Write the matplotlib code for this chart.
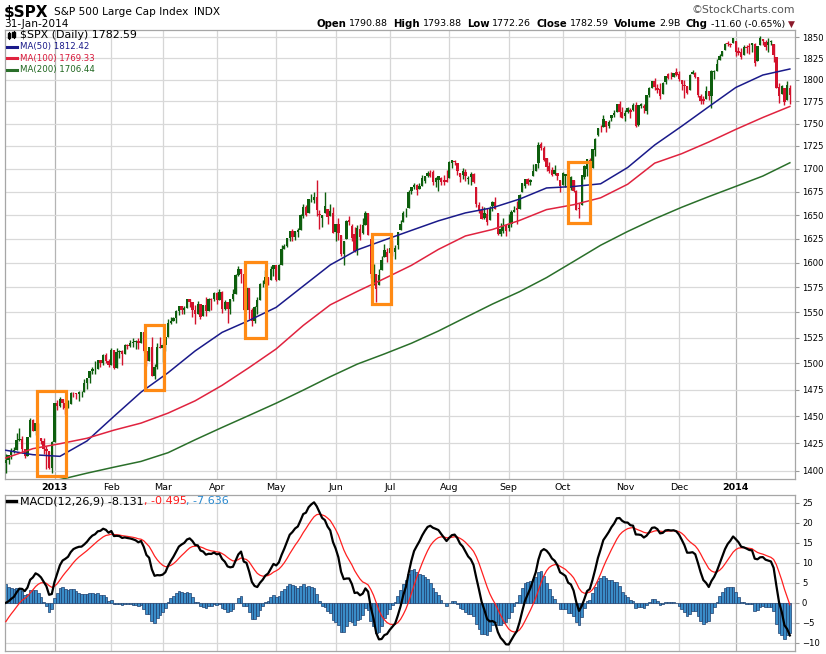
import numpy as np
import pandas as pd
import matplotlib
matplotlib.use("Agg")
import matplotlib.pyplot as plt
import matplotlib.patches as patches
from matplotlib.ticker import FixedLocator, NullLocator, FuncFormatter

# ---- daily OHLC, 5-Dec-2012 .. 31-Jan-2014 (one entry per trading day)
closes = [
    # Dec 2012
    1409.28, 1413.94, 1418.07, 1418.55, 1427.84, 1428.48, 1419.45, 1413.58, 1430.36, 1446.79,
    1435.81, 1443.69, 1430.15, 1426.66, 1419.83, 1418.10, 1402.43, 1426.19,
    # Jan 2013
    1462.42, 1459.37, 1466.47, 1461.89, 1457.15, 1461.02, 1472.12, 1472.05, 1470.68, 1472.34,
    1472.63, 1480.94, 1485.98, 1492.56, 1494.81, 1494.82, 1502.96, 1500.18, 1507.84, 1501.96, 1498.11,
    # Feb
    1513.17, 1495.71, 1511.29, 1512.12, 1509.39, 1517.93, 1517.01, 1519.43, 1520.33, 1521.38,
    1519.79, 1530.94, 1511.95, 1502.42, 1515.60, 1487.85, 1496.94, 1515.99, 1514.68,
    # Mar
    1518.20, 1525.20, 1539.79, 1541.46, 1544.26, 1551.18, 1556.22, 1552.48, 1554.52, 1563.23,
    1560.70, 1552.10, 1548.34, 1558.71, 1545.80, 1556.89, 1551.69, 1563.77, 1562.85, 1569.19,
    # Apr
    1562.17, 1570.25, 1553.69, 1559.98, 1553.28, 1563.07, 1568.61, 1587.73, 1593.37, 1588.85,
    1552.36, 1574.57, 1552.01, 1541.61, 1555.25, 1562.50, 1578.78, 1578.79, 1585.16, 1582.24,
    1593.61, 1597.57,
    # May
    1582.70, 1597.59, 1614.42, 1617.50, 1625.96, 1632.69, 1626.67, 1633.70, 1633.77, 1650.34,
    1658.78, 1650.47, 1667.47, 1666.29, 1669.16, 1655.35, 1650.51, 1649.60, 1660.06, 1648.36,
    1654.41, 1630.74,
    # Jun
    1640.42, 1631.38, 1608.90, 1622.56, 1643.38, 1642.81, 1626.13, 1612.52, 1636.36, 1626.73,
    1639.04, 1651.81, 1628.93, 1588.19, 1592.43, 1573.09, 1588.03, 1603.26, 1613.20, 1606.28,
    # Jul
    1614.96, 1614.08, 1615.41, 1631.89, 1640.46, 1652.32, 1652.62, 1675.02, 1680.19, 1682.50,
    1676.26, 1680.91, 1689.37, 1692.09, 1695.53, 1692.39, 1685.94, 1690.25, 1691.65, 1685.33,
    1685.96, 1685.73,
    # Aug
    1706.87, 1709.67, 1707.14, 1697.37, 1690.91, 1697.48, 1691.42, 1689.47, 1694.16, 1685.39,
    1661.32, 1655.83, 1646.06, 1652.35, 1642.80, 1656.96, 1663.50, 1656.78, 1630.48, 1634.96,
    1638.17, 1632.97,
    # Sep
    1639.77, 1653.08, 1655.08, 1655.17, 1671.71, 1683.99, 1689.13, 1683.42, 1687.99, 1697.60,
    1704.76, 1725.52, 1722.34, 1709.91, 1701.84, 1697.42, 1692.77, 1698.67, 1691.75, 1681.55,
    # Oct
    1695.00, 1693.87, 1678.66, 1690.50, 1676.12, 1655.45, 1656.40, 1692.56, 1703.20, 1710.14,
    1698.06, 1721.54, 1733.15, 1744.50, 1744.66, 1754.67, 1746.38, 1752.07, 1759.77, 1762.11,
    1771.95, 1763.31, 1756.54,
    # Nov
    1761.64, 1767.93, 1762.97, 1770.49, 1747.15, 1770.61, 1771.89, 1767.69, 1782.00, 1790.62,
    1798.18, 1791.53, 1787.87, 1781.37, 1795.85, 1804.76, 1802.48, 1802.75, 1807.23, 1805.81,
    # Dec
    1800.90, 1795.15, 1792.81, 1785.03, 1805.09, 1808.37, 1802.62, 1782.22, 1775.50, 1775.32,
    1786.54, 1781.00, 1810.65, 1809.60, 1818.32, 1827.99, 1833.32, 1842.02, 1841.40, 1841.07,
    1848.36,
    # Jan 2014
    1831.98, 1831.37, 1826.77, 1837.88, 1837.49, 1838.13, 1842.37, 1819.20, 1838.88, 1848.38,
    1845.89, 1838.70, 1843.80, 1844.86, 1828.46, 1790.29, 1781.56, 1792.50, 1774.20, 1794.19,
    1782.59,
]

opens = [
    1407.05, 1409.43, 1413.95, 1418.07, 1418.55, 1427.84, 1428.48, 1419.45, 1413.54, 1430.47,
    1446.79, 1435.81, 1443.67, 1430.15, 1426.66, 1419.83, 1418.10, 1402.43,
    1426.19, 1462.42, 1459.37, 1466.47, 1461.89, 1457.15, 1461.02, 1472.12, 1472.05, 1470.67,
    1472.33, 1472.63, 1480.95, 1485.98, 1492.56, 1494.81, 1494.82, 1502.96, 1500.18, 1507.84, 1501.96,
    1498.11, 1513.17, 1495.71, 1511.29, 1512.12, 1509.39, 1517.93, 1517.01, 1519.43, 1520.33,
    1521.38, 1519.79, 1530.94, 1511.95, 1502.42, 1515.60, 1487.85, 1496.94, 1515.99,
    1514.68, 1518.20, 1525.20, 1539.79, 1541.46, 1544.26, 1551.15, 1556.22, 1552.48, 1554.52,
    1563.21, 1560.70, 1552.10, 1548.34, 1558.71, 1545.90, 1556.89, 1551.69, 1563.75, 1562.86,
    1569.18, 1562.17, 1570.25, 1553.69, 1559.98, 1553.26, 1563.11, 1568.61, 1587.73, 1593.30,
    1588.84, 1552.36, 1574.57, 1552.03, 1541.61, 1555.25, 1562.50, 1578.78, 1578.78, 1585.16,
    1582.34, 1593.58,
    1597.55, 1582.77, 1597.60, 1614.40, 1617.55, 1625.95, 1632.69, 1626.69, 1632.10, 1633.75,
    1649.13, 1658.07, 1652.45, 1665.71, 1666.20, 1669.39, 1651.62, 1646.67, 1652.63, 1656.57,
    1649.14, 1652.13,
    1631.71, 1640.73, 1629.05, 1609.29, 1625.27, 1644.67, 1638.64, 1629.94, 1612.15, 1635.52,
    1630.64, 1639.77, 1651.83, 1624.62, 1588.62, 1588.77, 1577.52, 1592.27, 1606.44, 1611.12,
    1609.78, 1614.29, 1611.48, 1618.65, 1634.20, 1642.89, 1652.50, 1657.41, 1675.26, 1679.59,
    1682.70, 1677.91, 1681.05, 1686.15, 1692.09, 1695.53, 1696.06, 1685.21, 1687.31, 1690.32,
    1687.92, 1687.76,
    1689.42, 1706.10, 1708.01, 1705.79, 1695.30, 1693.35, 1696.10, 1688.37, 1690.65, 1693.88,
    1679.61, 1661.22, 1655.25, 1646.81, 1650.66, 1645.03, 1659.92, 1664.29, 1652.54, 1630.25,
    1633.50, 1638.89,
    1635.95, 1640.72, 1653.28, 1657.44, 1656.85, 1675.11, 1681.04, 1689.21, 1685.04, 1691.70,
    1697.73, 1705.74, 1727.34, 1722.44, 1711.44, 1702.60, 1698.02, 1694.05, 1695.52, 1687.26,
    1682.41, 1691.90, 1692.35, 1678.79, 1687.15, 1676.22, 1656.99, 1660.88, 1691.09, 1699.86,
    1709.17, 1700.49, 1720.17, 1736.72, 1745.20, 1746.48, 1752.27, 1747.48, 1756.01, 1759.42,
    1762.93, 1772.27, 1763.24,
    1758.70, 1763.40, 1765.67, 1765.00, 1770.74, 1748.37, 1769.96, 1769.51, 1764.37, 1782.75,
    1790.66, 1798.82, 1790.79, 1789.59, 1783.52, 1797.21, 1806.33, 1802.87, 1803.48, 1808.69,
    1806.55, 1800.10, 1794.15, 1792.82, 1788.36, 1806.21, 1807.60, 1802.76, 1781.71, 1777.98,
    1777.48, 1786.47, 1781.46, 1809.00, 1810.39, 1822.92, 1828.02, 1834.96, 1842.97, 1841.47,
    1842.61,
    1845.86, 1833.21, 1832.31, 1828.71, 1837.90, 1839.00, 1840.06, 1841.26, 1821.36, 1840.52,
    1847.99, 1844.23, 1841.05, 1844.71, 1842.29, 1826.96, 1791.03, 1783.00, 1790.15, 1777.17,
    1790.88,
]

highs = [
    1415.56, 1413.95, 1420.34, 1421.64, 1434.27, 1438.59, 1431.36, 1419.45, 1430.67, 1448.00,
    1447.75, 1443.70, 1443.67, 1430.15, 1429.42, 1422.80, 1418.10, 1426.74,
    1462.43, 1465.47, 1467.94, 1466.47, 1461.89, 1464.73, 1472.30, 1472.75, 1472.05, 1473.31,
    1473.96, 1485.16, 1485.98, 1492.56, 1496.13, 1502.27, 1503.26, 1503.23, 1509.35, 1509.94, 1504.19,
    1514.41, 1513.17, 1514.96, 1512.53, 1512.90, 1518.31, 1518.31, 1522.29, 1524.69, 1523.14,
    1524.24, 1530.94, 1530.94, 1511.95, 1515.64, 1525.84, 1498.99, 1520.08, 1525.34,
    1519.99, 1525.27, 1543.47, 1545.25, 1545.78, 1552.48, 1556.27, 1556.77, 1556.39, 1563.32,
    1563.62, 1560.70, 1557.25, 1561.56, 1558.71, 1557.74, 1564.91, 1563.95, 1564.07, 1570.28,
    1570.57, 1573.66, 1571.47, 1562.60, 1559.98, 1563.07, 1573.89, 1589.07, 1597.35, 1593.30,
    1588.84, 1575.35, 1574.57, 1554.38, 1555.89, 1565.55, 1579.58, 1583.00, 1592.64, 1585.78,
    1596.65, 1597.57,
    1597.55, 1598.60, 1618.46, 1619.77, 1626.03, 1632.78, 1635.01, 1633.70, 1636.00, 1651.10,
    1661.49, 1660.51, 1667.47, 1672.84, 1674.93, 1687.18, 1655.50, 1649.78, 1674.21, 1656.57,
    1661.91, 1658.99,
    1640.42, 1646.53, 1629.31, 1622.56, 1644.40, 1648.69, 1640.13, 1637.71, 1639.25, 1640.80,
    1646.50, 1654.19, 1652.45, 1624.62, 1599.19, 1588.77, 1593.79, 1606.83, 1620.07, 1615.94,
    1626.61, 1624.26, 1618.97, 1632.07, 1644.68, 1654.18, 1657.92, 1676.63, 1680.19, 1684.51,
    1683.73, 1684.75, 1693.12, 1692.09, 1697.61, 1698.78, 1698.38, 1690.94, 1691.85, 1690.92,
    1693.19, 1698.43,
    1707.85, 1709.67, 1709.24, 1705.79, 1695.30, 1700.18, 1699.42, 1691.49, 1696.81, 1695.52,
    1679.61, 1663.60, 1659.18, 1658.92, 1656.99, 1659.55, 1664.85, 1669.51, 1652.54, 1641.18,
    1646.41, 1640.08,
    1651.35, 1655.72, 1659.17, 1664.83, 1672.40, 1684.09, 1689.13, 1689.97, 1688.73, 1704.95,
    1705.52, 1729.44, 1729.86, 1725.23, 1711.44, 1707.63, 1701.71, 1703.85, 1695.52, 1687.26,
    1696.55, 1693.87, 1692.35, 1691.94, 1687.15, 1676.79, 1662.47, 1692.56, 1703.44, 1711.03,
    1711.57, 1721.76, 1733.45, 1745.31, 1747.79, 1759.33, 1752.27, 1753.94, 1759.82, 1764.99,
    1772.09, 1775.22, 1768.53,
    1765.67, 1768.78, 1767.03, 1773.74, 1774.54, 1770.78, 1773.44, 1771.78, 1782.00, 1791.53,
    1798.22, 1802.33, 1795.51, 1795.73, 1797.16, 1804.84, 1808.10, 1808.42, 1808.27, 1813.55,
    1810.02, 1800.10, 1799.80, 1792.82, 1806.04, 1811.52, 1808.52, 1802.97, 1782.99, 1780.92,
    1792.22, 1786.77, 1811.08, 1810.88, 1823.75, 1829.75, 1833.32, 1842.84, 1844.89, 1842.47,
    1849.44,
    1845.86, 1838.24, 1837.16, 1840.10, 1840.02, 1843.23, 1843.15, 1843.45, 1839.26, 1850.84,
    1847.99, 1846.04, 1849.31, 1846.87, 1842.29, 1826.96, 1795.98, 1793.87, 1790.15, 1798.77,
    1793.88,
]

lows = [
    1398.23, 1405.93, 1410.90, 1415.64, 1418.55, 1426.76, 1416.00, 1411.88, 1413.54, 1430.47,
    1435.80, 1432.82, 1422.58, 1424.66, 1414.76, 1401.80, 1401.58, 1398.11,
    1426.19, 1455.53, 1458.99, 1456.62, 1451.64, 1457.15, 1461.02, 1467.58, 1465.69, 1463.76,
    1467.60, 1472.63, 1475.81, 1481.16, 1489.90, 1489.46, 1494.82, 1496.33, 1498.09, 1500.11, 1496.76,
    1498.11, 1495.02, 1495.71, 1504.71, 1498.49, 1509.39, 1513.61, 1515.61, 1515.93, 1514.02,
    1514.14, 1519.79, 1511.41, 1497.29, 1502.42, 1487.85, 1485.01, 1494.88, 1514.46,
    1501.48, 1512.29, 1525.20, 1538.11, 1541.46, 1539.22, 1547.36, 1548.24, 1548.25, 1554.52,
    1555.74, 1545.13, 1538.57, 1548.34, 1543.55, 1545.90, 1546.22, 1551.69, 1551.90, 1561.08,
    1558.47, 1562.17, 1549.80, 1552.52, 1539.50, 1548.63, 1560.92, 1568.61, 1586.17, 1579.97,
    1552.28, 1552.36, 1543.69, 1536.03, 1539.40, 1548.19, 1562.50, 1575.80, 1578.78, 1577.56,
    1582.34, 1586.50,
    1581.28, 1582.77, 1597.60, 1614.21, 1616.64, 1622.70, 1623.09, 1623.71, 1626.74, 1633.75,
    1646.68, 1648.60, 1652.45, 1663.52, 1662.67, 1648.86, 1635.53, 1636.88, 1652.63, 1640.05,
    1648.61, 1630.74,
    1622.72, 1623.62, 1607.09, 1598.23, 1625.27, 1639.26, 1622.92, 1610.92, 1608.07, 1623.96,
    1630.34, 1639.77, 1628.91, 1584.32, 1577.70, 1560.33, 1577.09, 1592.27, 1606.44, 1601.06,
    1609.78, 1606.77, 1604.57, 1614.71, 1634.20, 1642.89, 1647.66, 1657.41, 1672.33, 1677.89,
    1671.84, 1677.91, 1681.05, 1684.08, 1690.67, 1691.13, 1682.57, 1680.07, 1676.03, 1681.86,
    1682.42, 1684.94,
    1689.42, 1700.68, 1703.55, 1693.29, 1684.91, 1688.38, 1686.02, 1683.35, 1682.62, 1684.83,
    1658.59, 1652.61, 1645.84, 1646.08, 1639.43, 1645.03, 1654.81, 1656.02, 1629.05, 1627.47,
    1630.88, 1627.47,
    1633.41, 1637.41, 1653.07, 1640.62, 1656.85, 1675.11, 1678.70, 1681.96, 1682.22, 1691.70,
    1697.73, 1700.35, 1720.20, 1708.89, 1697.10, 1694.90, 1691.88, 1693.11, 1687.11, 1674.99,
    1682.07, 1680.34, 1670.36, 1677.33, 1674.70, 1655.03, 1646.47, 1660.88, 1688.52, 1692.13,
    1695.93, 1700.49, 1714.12, 1735.74, 1740.67, 1746.48, 1740.50, 1745.50, 1752.45, 1757.67,
    1762.93, 1757.24, 1755.72,
    1752.70, 1761.56, 1755.76, 1764.23, 1746.20, 1747.63, 1767.85, 1762.29, 1760.64, 1780.22,
    1790.66, 1788.00, 1784.72, 1777.23, 1783.52, 1794.70, 1800.58, 1800.77, 1802.77, 1803.98,
    1798.60, 1787.85, 1779.09, 1783.38, 1788.36, 1806.21, 1801.75, 1780.09, 1772.28, 1772.45,
    1777.48, 1777.05, 1767.99, 1801.35, 1810.25, 1822.92, 1828.02, 1834.96, 1839.81, 1838.77,
    1842.41,
    1827.74, 1829.13, 1823.73, 1828.71, 1831.40, 1830.38, 1832.43, 1815.52, 1821.36, 1840.52,
    1840.30, 1835.23, 1832.38, 1840.88, 1820.06, 1790.29, 1772.88, 1783.00, 1770.45, 1777.17,
    1772.26,
]

# moving averages every 10 trading days
ma_idx = list(range(0, 291, 10))
ma50 = [1418.5, 1414.5, 1413.0, 1427.0, 1449.8, 1472.5, 1491.0, 1512.0, 1530.2, 1542.0,
        1555.0, 1576.4, 1598.0, 1613.5, 1623.7, 1633.8, 1643.9, 1652.3, 1657.8, 1667.0,
        1679.0, 1680.6, 1683.5, 1701.2, 1726.0, 1747.0, 1769.0, 1791.0, 1805.4, 1812.4]
ma100 = [1411.5, 1420.0, 1424.5, 1429.5, 1437.0, 1443.5, 1452.8, 1464.3, 1479.0, 1496.0,
         1514.0, 1537.0, 1557.5, 1571.0, 1584.0, 1597.5, 1614.0, 1628.0, 1634.8, 1644.3,
         1655.8, 1661.0, 1668.4, 1683.0, 1706.0, 1716.4, 1729.3, 1743.4, 1756.8, 1769.3]
ma200 = [1386.0, 1388.5, 1392.0, 1397.8, 1403.2, 1408.4, 1416.3, 1428.1, 1439.5, 1450.7,
         1462.1, 1474.4, 1487.2, 1499.3, 1509.1, 1519.5, 1531.5, 1544.9, 1558.3, 1570.7,
         1585.0, 1601.5, 1618.3, 1632.7, 1646.0, 1658.3, 1669.7, 1680.7, 1691.9, 1706.4]

# orange boxes (trading-day index, price)
box_x0 = [11.4, 51.5, 88.5, 135.3, 207.8]
box_x1 = [22.25, 58.5, 96.1, 142.6, 216.1]
box_lo = [1395.2, 1474.5, 1524.9, 1558.6, 1641.9]
box_hi = [1473.9, 1537.4, 1600.6, 1630.3, 1706.9]

month_idx = [18, 39, 58, 78, 100, 122, 142, 164, 186, 206, 229, 249, 270]
month_labels = ['2013', 'Feb', 'Mar', 'Apr', 'May', 'Jun', 'Jul', 'Aug', 'Sep',
                'Oct', 'Nov', 'Dec', '2014']
price_ticks = list(range(1400, 1851, 25))
macd_ticks = [-10, -5, 0, 5, 10, 15, 20, 25]
signal_start = -4.7

GREEN = '#0d5e0d'
RED = '#d3122c'
W, H = 826, 654

fig = plt.figure(figsize=(W / 100, H / 100), dpi=100)
fig.patch.set_facecolor('white')


def box(l, t, r, b):
    return [l / W, 1 - b / H, (r - l) / W, (b - t) / H]


ax = fig.add_axes(box(5, 30, 795, 479.3))
axm = fig.add_axes(box(5, 494.5, 795, 650.7))

x = np.arange(len(closes))
o = np.array(opens)
c = np.array(closes)
hi = np.array(highs)
lo = np.array(lows)
cols = np.where(c >= o, GREEN, RED)

# ---------------- price panel
ax.set_yscale('log')
ax.set_xlim(-0.31, 291.9)
ax.set_ylim(1392.3, 1858.4)
for m, lab in zip(month_idx, month_labels):
    yr = lab.isdigit()
    ax.axvline(m, color='#b4b4b4' if yr else '#d6d6d6', lw=0.9, zorder=0)
    axm.axvline(m, color='#b4b4b4' if yr else '#d6d6d6', lw=0.9, zorder=0)
for p in price_ticks:
    ax.axhline(p, color='#d9d9d9', lw=0.9, zorder=0)

ax.vlines(x, lo, hi, colors=cols, lw=1.0, zorder=3)
ax.bar(x, np.abs(c - o), bottom=np.minimum(o, c), width=0.88, color=cols, zorder=3)

ax.plot(ma_idx, ma50, color='#1a1a8a', lw=1.1, zorder=4)
ax.plot(ma_idx, ma100, color='#e0233f', lw=1.1, zorder=4)
ax.plot(ma_idx, ma200, color='#2a6f2a', lw=1.1, zorder=4)

for a, b, l, h in zip(box_x0, box_x1, box_lo, box_hi):
    ax.add_patch(patches.Rectangle((a, l), b - a, h - l, fill=False,
                                   edgecolor='#ff8a14', lw=2.3, zorder=5))

ax.yaxis.set_major_locator(FixedLocator(price_ticks))
ax.yaxis.set_minor_locator(NullLocator())
ax.yaxis.set_major_formatter(FuncFormatter(lambda v, p: f'{v:.0f}'))
ax.yaxis.tick_right()
ax.tick_params(axis='y', labelsize=6.1, length=3, color='#999999', pad=2)
ax.set_xticks(month_idx)
ax.set_xticklabels(month_labels)
ax.tick_params(axis='x', labelsize=6.8, length=0, pad=3)
for t in ax.get_xticklabels():
    if t.get_text().isdigit():
        t.set_fontweight('bold')

# ---------------- MACD panel
ema12 = pd.Series(closes).ewm(span=12, adjust=False).mean()
ema26 = pd.Series(closes).ewm(span=26, adjust=False).mean()
macd = (ema12 - ema26).to_numpy()
signal = np.empty_like(macd)
signal[0] = signal_start
for i in range(1, len(macd)):
    signal[i] = signal[i - 1] + 0.2 * (macd[i] - signal[i - 1])
hist = macd - signal

axm.set_xlim(-0.31, 291.9)
axm.set_ylim(-11.94, 27.0)
for v in macd_ticks:
    axm.axhline(v, color='#d9d9d9', lw=0.9, zorder=0)
axm.bar(x, hist, width=1.0, color='#3a8cc8', edgecolor='#1d3e6e', lw=0.5, zorder=2)
axm.plot(x, signal, color='#ff2020', lw=0.9, zorder=3)
axm.plot(x, macd, color='black', lw=1.6, zorder=4)
axm.set_yticks(macd_ticks)
axm.yaxis.tick_right()
axm.tick_params(axis='y', labelsize=6.1, length=3, color='#999999', pad=2)
axm.set_xticks([])

for a in (ax, axm):
    for s in a.spines.values():
        s.set_color('#a6a6a6')
        s.set_linewidth(0.9)

# ---------------- texts
renderer = fig.canvas.get_renderer()


def text_row(x0, y, pieces, align='left'):
    made = []
    for txt, gap, kw in pieces:
        t = fig.text(0, 1 - y / H, txt, ha='left', va='center', **kw)
        made.append((t, t.get_window_extent(renderer).width, gap))
    total = sum(w + g for _, w, g in made) - made[-1][2]
    cur = x0 if align == 'left' else x0 - total
    for t, w, g in made:
        t.set_x(cur / W)
        cur += w + g


bold = dict(fontsize=7.3, fontweight='bold')
norm = dict(fontsize=6.8)
text_row(4, 12, [('$SPX', 5, dict(fontsize=11, fontweight='bold')),
                 ('S&P 500 Large Cap Index', 6, dict(fontsize=7.6)),
                 ('INDX', 0, dict(fontsize=7.6))])
fig.text(4 / W, 1 - 24 / H, '31-Jan-2014', ha='left', va='center', fontsize=7.6)
fig.text(795 / W, 1 - 10 / H, '\u00a9StockCharts.com', ha='right', va='center',
         fontsize=7.8, color='#555555')
text_row(795, 24, [('Open', 3, bold), ('1790.88', 5, norm),
                   ('High', 3, bold), ('1793.88', 5, norm),
                   ('Low', 3, bold), ('1772.26', 5, norm),
                   ('Close', 3, bold), ('1782.59', 5, norm),
                   ('Volume', 3, bold), ('2.9B', 5, norm),
                   ('Chg', 3, bold), ('-11.60 (-0.65%)', 3, norm),
                   ('\u25bc', 0, dict(fontsize=6.5, color='#8b1a2b'))], align='right')

# candle icon in front of the price legend
for cx, b0, b1, w0, w1, col in [(9, 33.5, 37.5, 32, 39, 'black'), (13.5, 32.5, 36.5, 31, 38, 'black')]:
    fig.add_artist(plt.Line2D([cx / W, cx / W], [1 - w1 / H, 1 - w0 / H], color=col, lw=0.8))
    fig.add_artist(patches.Rectangle(((cx - 1.3) / W, 1 - b1 / H), 2.6 / W, (b1 - b0) / H,
                                     transform=fig.transFigure, color=col))

fig.text(20 / W, 1 - 35 / H, '$SPX (Daily) 1782.59', ha='left', va='center',
         fontsize=7.9, color='black')
legend = [('MA(50) 1812.42', '#1a1a8a', '#1a1a8a'),
          ('MA(100) 1769.33', '#d9183a', '#e0233f'),
          ('MA(200) 1706.44', '#1f661f', '#2a6f2a')]
for k, (txt, tc, lc) in enumerate(legend):
    y = 46.7 + k * 11.6
    fig.text(20 / W, 1 - y / H, txt, ha='left', va='center', fontsize=6.2, color=tc)
    fig.add_artist(plt.Line2D([7 / W, 17 / W], [1 - y / H, 1 - y / H], color=lc, lw=2.2))

fig.add_artist(plt.Line2D([7 / W, 16 / W], [1 - 501 / H, 1 - 501 / H], color='black', lw=2.4))
text_row(20, 501, [('MACD(12,26,9) -8.131', 0, dict(fontsize=8.0)),
                   (', -0.495', 0, dict(fontsize=8.0, color='#ff1a1a')),
                   (', -7.636', 0, dict(fontsize=8.0, color='#2a8ad0'))])

fig.savefig('out.png', dpi=100)
